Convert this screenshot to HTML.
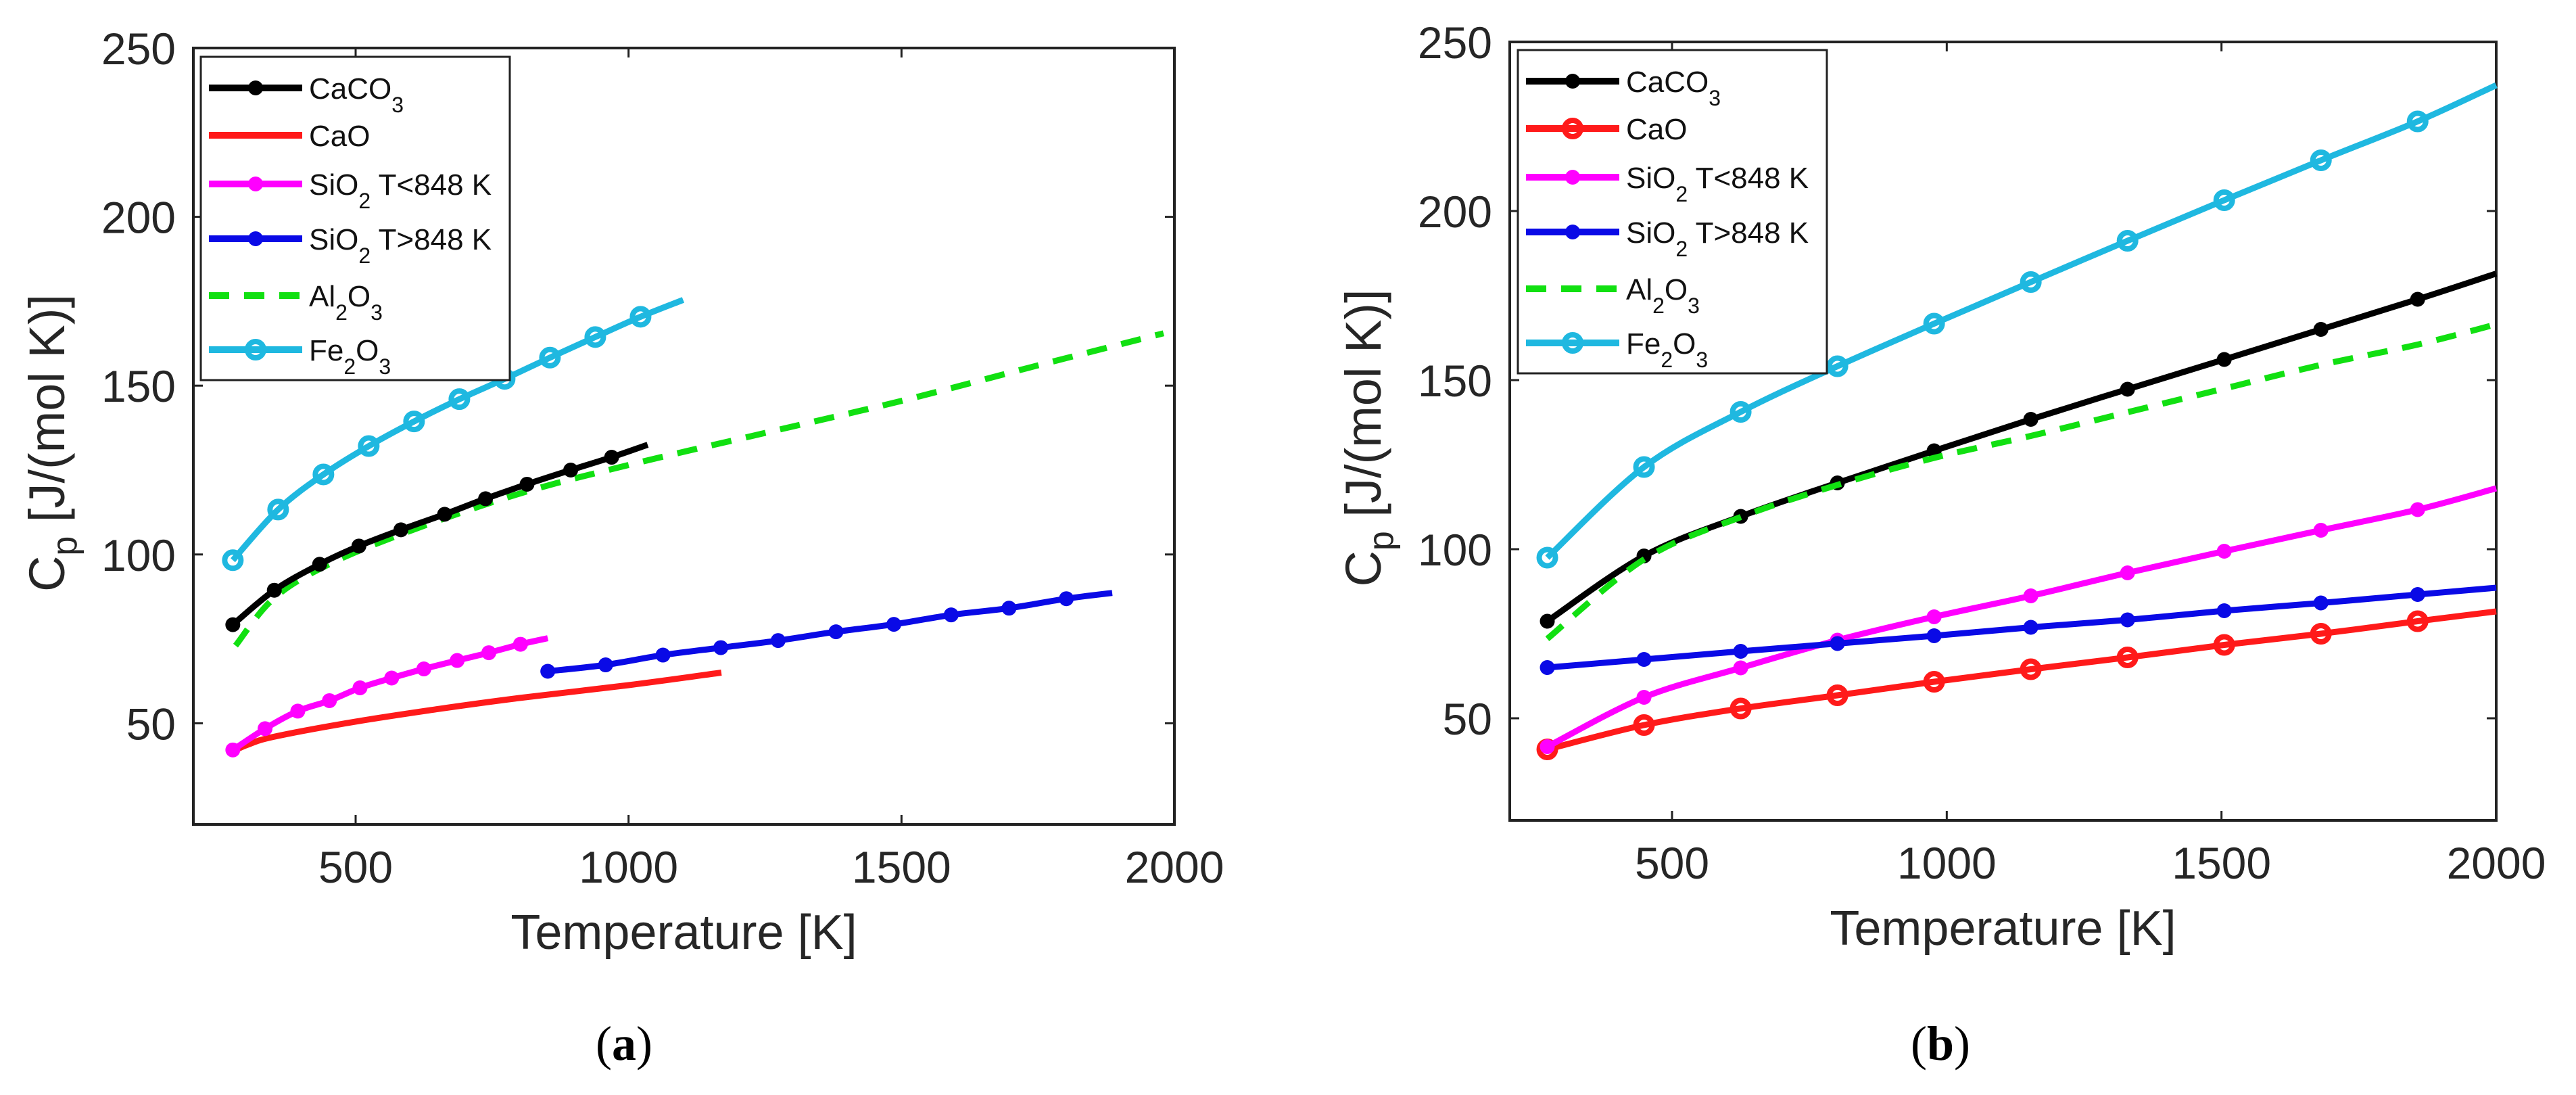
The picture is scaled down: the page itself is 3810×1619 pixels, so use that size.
<!DOCTYPE html>
<html><head><meta charset="utf-8">
<style>
html,body{margin:0;padding:0;background:#fff;}
svg{display:block;font-family:"Liberation Sans",sans-serif;}
</style></head>
<body>
<svg id="fig" width="3810" height="1619" viewBox="0 0 3810 1619" xmlns="http://www.w3.org/2000/svg"></svg>
<script>
// ---------- data ----------
const xTicks = [500, 1000, 1500, 2000];
const yTicks = [50, 100, 150, 200, 250];
const seriesNames = ["CaCO3", "CaO", "SiO2 T<848 K", "SiO2 T>848 K", "Al2O3", "Fe2O3"];

// Panel (a)
const aCaCO3T = [275, 351, 434, 506, 583, 663, 738, 814, 894, 969, 1035];
const aCaCO3V = [79.2, 89.4, 97.1, 102.5, 107.3, 111.9, 116.5, 120.8, 125, 128.8, 132.5];
const aCaCO3M = [1,1,1,1,1,1,1,1,1,1,0];
const aCaOT = [273, 300, 350, 500, 650, 800, 1000, 1170];
const aCaOV = [41.5, 43.5, 46, 50.5, 54.2, 57.5, 61.3, 65];
const aSiLoT = [275, 334, 394, 452, 508, 566, 625, 686, 744, 802, 852];
const aSiLoV = [42.1, 48.4, 53.6, 56.7, 60.5, 63.4, 66.1, 68.6, 70.9, 73.4, 75.2];
const aSiLoM = [1,1,1,1,1,1,1,1,1,1,0];
const aSiHiT = [852, 958, 1063, 1169, 1274, 1380, 1486, 1591, 1697, 1802, 1886];
const aSiHiV = [65.4, 67.3, 70.2, 72.4, 74.5, 77.1, 79.3, 82.1, 84.1, 86.9, 88.6];
const aSiHiM = [1,1,1,1,1,1,1,1,1,1,0];
const aAlT = [280, 350, 450, 600, 800, 1000, 1250, 1500, 1750, 1980];
const aAlV = [73, 87, 97, 107, 118, 126.5, 136, 145.5, 156, 165.5];
const aFeT = [275, 358, 441, 524, 607, 690, 773, 856, 939, 1022, 1100];
const aFeV = [98.3, 113.3, 123.7, 132.1, 139.4, 146, 152, 158.3, 164.4, 170.4, 175.4];
const aFeM = [1,1,1,1,1,1,1,1,1,1,0];

// Panel (b)
const bT = [273, 449, 625, 801, 977, 1153, 1329, 1505, 1681, 1857, 2000];
const bM = [1,1,1,1,1,1,1,1,1,1,0];
const bCaCO3V = [78.7, 98, 109.7, 119.6, 129.1, 138.4, 147.3, 156.1, 165, 173.9, 181.5];
const bCaOV = [40.8, 48, 52.9, 56.8, 60.8, 64.5, 68, 71.7, 75, 78.7, 81.6];
const bSiLoV = [41.6, 56.2, 64.9, 73.1, 80, 86.2, 93, 99.4, 105.6, 111.7, 118];
const bSiHiV = [65, 67.4, 69.8, 72.1, 74.4, 76.9, 79.1, 81.8, 84.1, 86.6, 88.6];
const bAlV = [73.5, 97, 109.5, 119, 127, 133.5, 140.5, 147.5, 154.5, 160.5, 166.5];
const bFeV = [97.5, 124.3, 140.6, 154.1, 166.7, 179, 191.2, 203.2, 215, 226.5, 237.2];

// ---------- drawing ----------
const NS = "http://www.w3.org/2000/svg";
const svg = document.getElementById("fig");
function mk(tag, attrs, parent) {
  const e = document.createElementNS(NS, tag);
  for (const k in attrs) e.setAttribute(k, attrs[k]);
  (parent || svg).appendChild(e);
  return e;
}
const COL = {black:"#000000", red:"#ff1a1a", mag:"#ff00ff", blue:"#0a0ae6", green:"#11e011", cyan:"#1fb8e0"};

function makeAxes(p) {
  // p: left,right,top,bottom,x500,x2000,yTop(250),per50
  p.sx = t => p.x500 + (t - 500) * (p.x2000 - p.x500) / 1500;
  p.sy = v => p.y250 + (250 - v) * p.per50 / 50;
  return p;
}
function smoothPath(pts) {
  let d = "M" + pts[0][0].toFixed(1) + "," + pts[0][1].toFixed(1);
  for (let i = 0; i < pts.length - 1; i++) {
    const p0 = pts[Math.max(0, i - 1)], p1 = pts[i], p2 = pts[i + 1], p3 = pts[Math.min(pts.length - 1, i + 2)];
    const c1x = p1[0] + (p2[0] - p0[0]) / 6, c1y = p1[1] + (p2[1] - p0[1]) / 6;
    const c2x = p2[0] - (p3[0] - p1[0]) / 6, c2y = p2[1] - (p3[1] - p1[1]) / 6;
    d += " C" + c1x.toFixed(1) + "," + c1y.toFixed(1) + " " + c2x.toFixed(1) + "," + c2y.toFixed(1) + " " + p2[0].toFixed(1) + "," + p2[1].toFixed(1);
  }
  return d;
}
function drawSeries(g, ax, T, V, M, color, marker, dashed, name) {
  const pts = T.map((t, i) => [ax.sx(t), ax.sy(V[i])]);
  const path = mk("path", {d: smoothPath(pts), fill: "none", stroke: color, "stroke-width": 9,
    "stroke-linejoin": "round", "stroke-dasharray": dashed ? "30 22" : "none"}, g);
  
  
  if (!marker || !M) return;
  pts.forEach((p, i) => {
    if (!M[i]) return;
    let c;
    if (marker === "dot") c = mk("circle", {cx: p[0], cy: p[1], r: 11, fill: color}, g);
    else c = mk("circle", {cx: p[0], cy: p[1], r: 12, fill: "none", stroke: color, "stroke-width": 8}, g);
    
    
  });
}
function drawFrame(ax, prefix) {
  const g = mk("g", {});
  
  
  xTicks.forEach(t => {
    const x = ax.sx(t);
    mk("line", {x1: x, x2: x, y1: ax.bottom, y2: ax.bottom - 14, stroke: "#222", "stroke-width": 3}, g);
    mk("line", {x1: x, x2: x, y1: ax.top, y2: ax.top + 14, stroke: "#222", "stroke-width": 3}, g);
    const tl = mk("text", {x: x, y: ax.bottom + 86, "font-size": 66, fill: "#262626", "text-anchor": "middle"}, g);
    tl.textContent = t;
    
    
  });
  yTicks.forEach(v => {
    const y = ax.sy(v);
    mk("line", {x1: ax.left, x2: ax.left + 14, y1: y, y2: y, stroke: "#222", "stroke-width": 3}, g);
    mk("line", {x1: ax.right, x2: ax.right - 14, y1: y, y2: y, stroke: "#222", "stroke-width": 3}, g);
    const tl = mk("text", {x: ax.left - 26, y: y + 24, "font-size": 66, fill: "#262626", "text-anchor": "end"}, g);
    tl.textContent = v;
    
    
  });
  mk("rect", {x: ax.left, y: ax.top, width: ax.right - ax.left, height: ax.bottom - ax.top, fill: "none", stroke: "#222", "stroke-width": 4}, g);
  // axis titles
  const xt = mk("text", {x: (ax.left + ax.right) / 2, y: ax.bottom + 184, "font-size": 72, fill: "#262626", "text-anchor": "middle"}, g);
  xt.textContent = "Temperature [K]";
  
  
  const yc = (ax.top + ax.bottom) / 2 + 10;
  const yt = mk("text", {x: 0, y: 0, "font-size": 74, fill: "#262626", "text-anchor": "middle",
    transform: "translate(" + (ax.left - 191) + "," + yc + ") rotate(-90)"}, g);
  yt.innerHTML = 'C<tspan font-size="52" dy="18">p</tspan><tspan dy="-18"> [J/(mol K)]</tspan>';
  
  
}
function drawLegend(lx, ly, entries, prefix) {
  const g = mk("g", {});
  
  
  mk("rect", {x: lx, y: ly, width: 457, height: 478, fill: "#fff", stroke: "#222", "stroke-width": 3}, g);
  const offs = [46, 116, 188, 269, 353, 433];
  entries.forEach((e, i) => {
    const y = ly + offs[i];
    const eg = mk("g", {}, g);
    
    
    mk("line", {x1: lx + 12, x2: lx + 150, y1: y, y2: y, stroke: e.color, "stroke-width": 10,
      "stroke-dasharray": e.dashed ? "30 22" : "none"}, eg);
    if (e.marker === "dot") mk("circle", {cx: lx + 81, cy: y, r: 11, fill: e.color}, eg);
    if (e.marker === "circle") mk("circle", {cx: lx + 81, cy: y, r: 12, fill: "none", stroke: e.color, "stroke-width": 8}, eg);
    const t = mk("text", {x: lx + 160, y: y + 16, "font-size": 44, fill: "#111"}, eg);
    t.innerHTML = e.label;
  });
}
const sub = s => '<tspan font-size="32" dy="20">' + s + '</tspan><tspan dy="-20">';
const labels = [
  'CaCO' + sub('3') + '</tspan>',
  'CaO',
  'SiO' + sub('2') + ' T&lt;848 K</tspan>',
  'SiO' + sub('2') + ' T&gt;848 K</tspan>',
  'Al' + sub('2') + 'O</tspan>' + sub('3') + '</tspan>',
  'Fe' + sub('2') + 'O</tspan>' + sub('3') + '</tspan>'
];

// Panel (a)
const A = makeAxes({left: 286, right: 1737, top: 71, bottom: 1219, x500: 526, x2000: 1737, y250: 71, per50: 249.6});
drawFrame(A, "panel-a");
const gA = mk("g", {});


drawSeries(gA, A, aAlT, aAlV, null, COL.green, null, true, "al2o3");
drawSeries(gA, A, aCaOT, aCaOV, null, COL.red, null, false, "cao");
drawSeries(gA, A, aSiLoT, aSiLoV, aSiLoM, COL.mag, "dot", false, "sio2-low");
drawSeries(gA, A, aSiHiT, aSiHiV, aSiHiM, COL.blue, "dot", false, "sio2-high");
drawSeries(gA, A, aCaCO3T, aCaCO3V, aCaCO3M, COL.black, "dot", false, "caco3");
drawSeries(gA, A, aFeT, aFeV, aFeM, COL.cyan, "circle", false, "fe2o3");
drawLegend(297, 84, [
  {label: labels[0], color: COL.black, marker: "dot"},
  {label: labels[1], color: COL.red, marker: null},
  {label: labels[2], color: COL.mag, marker: "dot"},
  {label: labels[3], color: COL.blue, marker: "dot"},
  {label: labels[4], color: COL.green, marker: null, dashed: true},
  {label: labels[5], color: COL.cyan, marker: "circle"}
], "panel-a");

// Panel (b)
const B = makeAxes({left: 2233, right: 3692, top: 62, bottom: 1213, x500: 2473, x2000: 3692, y250: 62, per50: 250});
drawFrame(B, "panel-b");
const gB = mk("g", {});


drawSeries(gB, B, bT, bCaOV, bM, COL.red, "circle", false, "cao");
drawSeries(gB, B, bT, bSiLoV, bM, COL.mag, "dot", false, "sio2-low");
drawSeries(gB, B, bT, bSiHiV, bM, COL.blue, "dot", false, "sio2-high");
drawSeries(gB, B, bT, bCaCO3V, bM, COL.black, "dot", false, "caco3");
drawSeries(gB, B, bT, bAlV, null, COL.green, null, true, "al2o3");
drawSeries(gB, B, bT, bFeV, bM, COL.cyan, "circle", false, "fe2o3");
drawLegend(2245, 74, [
  {label: labels[0], color: COL.black, marker: "dot"},
  {label: labels[1], color: COL.red, marker: "circle"},
  {label: labels[2], color: COL.mag, marker: "dot"},
  {label: labels[3], color: COL.blue, marker: "dot"},
  {label: labels[4], color: COL.green, marker: null, dashed: true},
  {label: labels[5], color: COL.cyan, marker: "circle"}
], "panel-b");

// Captions
[["(a)", 923, "caption-a", "a"], ["(b)", 2870, "caption-b", "b"]].forEach(c => {
  const t = mk("text", {x: c[1], y: 1567, "font-size": 72, "text-anchor": "middle", fill: "#000",
    "font-family": "Liberation Serif, serif"});
  t.innerHTML = '(<tspan font-weight="bold">' + c[3] + '</tspan>)';
  
  
});
</script>
</body></html>
